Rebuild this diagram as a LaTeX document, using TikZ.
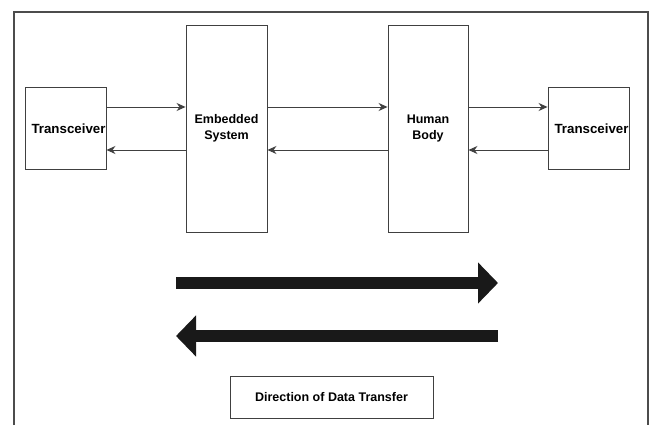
\documentclass[tikz,border=0pt]{standalone}
\usepackage{fontspec}
\setmainfont{Liberation Sans}
\usetikzlibrary{arrows.meta}
\begin{document}
\begin{tikzpicture}[x=1pt,y=1pt,
  blk/.style={draw=black!75,line width=0.9pt,fill=white,align=center,inner sep=0pt,
    font=\fontsize{12.5}{16.5}\selectfont\bfseries},
  conn/.style={draw=black!75,line width=0.9pt,-{Stealth[length=9pt,width=8pt]}},
  bigarrow/.style={draw=black!90,line width=12pt,-{Triangle[length=20pt,width=40pt]}}]
\useasboundingbox (0,0) rectangle (652,425);
\fill[white] (0,0) rectangle (652,425);
\draw[black!70,line width=1.5pt] (14,0) -- (14,413) -- (648,413) -- (648,0);
\node[blk,minimum width=81pt,minimum height=207pt] (es) at (226.5,296.5) {Embedded\\System};
\node[blk,minimum width=80pt,minimum height=207pt] (hb) at (428,296.5) {Human\\Body};
\node[blk,minimum width=81pt,minimum height=82pt,text depth=0pt] (lt) at (65.5,297) {\hspace*{6pt}\raisebox{-2pt}{\fontsize{13.3}{16}\selectfont Transceiver}};
\node[blk,minimum width=81pt,minimum height=82pt,text depth=0pt] (rt) at (588.5,297) {\hspace*{6pt}\raisebox{-2pt}{\fontsize{13.3}{16}\selectfont Transceiver}};
\draw[conn] ([yshift=21pt]lt.east) -- ([yshift=21.5pt]es.west);
\draw[conn] ([yshift=-21.5pt]es.west) -- ([yshift=-22pt]lt.east);
\draw[conn] ([yshift=21.5pt]es.east) -- ([yshift=21.5pt]hb.west);
\draw[conn] ([yshift=-21.5pt]hb.west) -- ([yshift=-21.5pt]es.east);
\draw[conn] ([yshift=21.5pt]hb.east) -- ([yshift=21pt]rt.west);
\draw[conn] ([yshift=-22pt]rt.west) -- ([yshift=-21.5pt]hb.east);
\coordinate (a1s) at (176,142);
\coordinate (a1e) at (498,142);
\coordinate (a2s) at (498,89);
\coordinate (a2e) at (176,89);
\draw[bigarrow] (a1s) -- (a1e);
\draw[bigarrow] (a2s) -- (a2e);
\node[blk,minimum width=203pt,minimum height=42pt] (dir) at (331.5,28) {Direction of Data Transfer};
\end{tikzpicture}
\end{document}
